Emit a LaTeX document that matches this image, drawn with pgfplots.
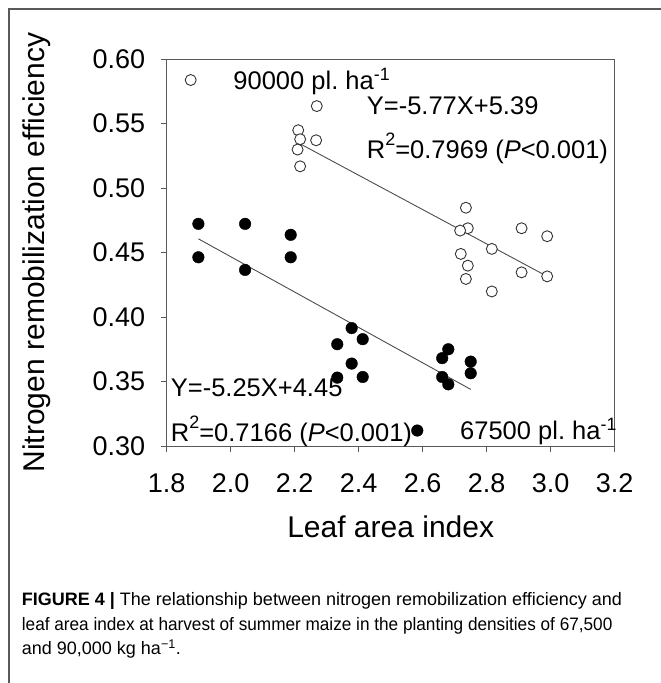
\documentclass[border=0pt]{standalone}
\usepackage{pgfplots}
\pgfplotsset{compat=1.18}
\usepackage{fontspec}
\setmainfont{Liberation Sans}

\newcommand\annfont{\fontsize{25.5}{25.5}\selectfont}
\newcommand\rsq{R\raisebox{13pt}{\fontsize{18}{18}\selectfont 2}}

\begin{document}
\begin{tikzpicture}[x=1pt,y=1pt]
\useasboundingbox (-166.7,-237) rectangle (494.3,446);
% outer frame (top and left edges only)
\draw[line width=1.4pt, black!65] (-157.7,-240) -- (-157.7,437) -- (500,437);

\begin{axis}[
    scale only axis,
    width=448pt, height=387pt,
    xmin=1.8, xmax=3.2, ymin=0.30, ymax=0.60,
    xtick={1.8,2.0,...,3.2},
    ytick={0.30,0.35,...,0.60},
    tick align=outside,
    major tick length=6pt,
    xtick pos=bottom, ytick pos=left,
    axis line style={black!65, line width=0.9pt},
    tick style={black!65, line width=0.9pt},
    /pgf/number format/assume math mode=true,
    ticklabel style={font=\fontsize{27}{27}\selectfont},
    xticklabel style={yshift=-18pt, /pgf/number format/.cd, fixed, fixed zerofill, precision=1},
    yticklabel style={xshift=-12pt, /pgf/number format/.cd, fixed, fixed zerofill, precision=2},
    label style={font=\fontsize{30}{30}\selectfont},
    xlabel={Leaf area index},
    ylabel={Nitrogen remobilization efficiency},
    xlabel style={at={(axis description cs:0.5,-0.2377)}, anchor=base},
    ylabel style={at={(axis description cs:-0.2717,0.5)}, anchor=base, rotate=0},
    clip=false,
]
% fitted lines
\addplot[black!70, line width=0.9pt] coordinates {(2.206,0.5357) (2.989,0.4315)};
\addplot[black!70, line width=0.9pt] coordinates {(1.899,0.4606) (2.75,0.3439)};

% 90000 pl. ha-1 (open circles)
\addplot[only marks, mark=*, mark size=5.5pt,
         mark options={fill=white, draw=black!80, line width=0.9pt}]
 coordinates {
 (1.875,0.5837) (2.269,0.5635) (2.211,0.5448) (2.217,0.5378) (2.267,0.5370)
 (2.209,0.5298) (2.217,0.5168) (2.735,0.4847) (2.741,0.4688) (2.717,0.4670)
 (2.909,0.4688) (2.989,0.4626) (2.816,0.4528) (2.719,0.4489) (2.741,0.4398)
 (2.735,0.4295) (2.909,0.4346) (2.989,0.4315) (2.816,0.4198)};

% annotation text
\node[anchor=base west, inner sep=0pt, font=\annfont] at (axis cs:2.008,0.576) {90000 pl.\ ha\textsuperscript{-1}};
\node[anchor=base west, inner sep=0pt, font=\annfont] at (axis cs:2.425,0.5566) {Y=-5.77X+5.39};
\node[anchor=base west, inner sep=0pt, font=\annfont] at (axis cs:2.425,0.5225) {\rsq=0.7969 (\textit{P}<0.001)};
\node[anchor=base west, inner sep=0pt, font=\annfont] at (axis cs:1.8125,0.3382) {Y=-5.25X+4.45};
\node[anchor=base west, inner sep=0pt, font=\annfont] at (axis cs:1.8125,0.3033) {\rsq=0.7166 (\textit{P}<0.001)};
\node[anchor=base west, inner sep=0pt, font=\annfont] at (axis cs:2.7166,0.3052) {67500 pl.\ ha\textsuperscript{-1}};

% 67500 pl. ha-1 (filled circles)
\addplot[only marks, mark=*, mark size=5.8pt, black]
 coordinates {
 (1.899,0.4722) (2.045,0.4722) (2.1875,0.4637) (1.899,0.4463) (2.045,0.4365)
 (2.1875,0.4463) (2.378,0.3914) (2.4125,0.3828) (2.333,0.3789) (2.378,0.3639)
 (2.333,0.3530) (2.4125,0.3535) (2.680,0.3750) (2.661,0.3681) (2.750,0.3654)
 (2.750,0.3564) (2.661,0.3535) (2.680,0.3478) (2.583,0.3120)};
\end{axis}

% caption
\begin{scope}[font=\fontsize{18}{18}\selectfont]
\node[anchor=base west, inner sep=0pt] at (-145,-159.5) {\textbf{FIGURE 4 |} The relationship between nitrogen remobilization efficiency and};
\node[anchor=base west, inner sep=0pt] at (-145,-184) {\scalebox{0.955}[1]{leaf area index at harvest of summer maize in the planting densities of 67,500}};
\node[anchor=base west, inner sep=0pt] at (-145,-208.5) {and 90,000 kg ha\textsuperscript{\textminus1}.};
\end{scope}
\end{tikzpicture}
\end{document}
